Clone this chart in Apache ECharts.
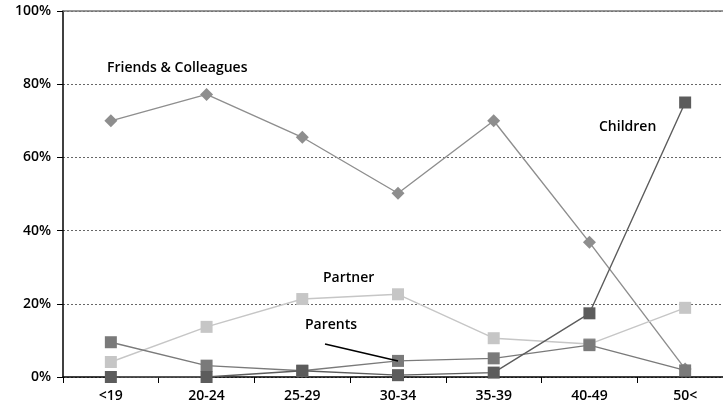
<!DOCTYPE html>
<html>
<head>
<meta charset="utf-8">
<script src="https://cdn.jsdelivr.net/npm/echarts@6/dist/echarts.min.js"></script>
<style>
  html, body { margin: 0; padding: 0; background: #fff; }
  #chart { width: 723px; height: 415px; }
</style>
</head>
<body>
<div id="chart"></div>
<script>
// age groups and shares (%)
const ageGroups = ['<19', '20-24', '25-29', '30-34', '35-39', '40-49', '50<'];
const friends = [70, 77.2, 65.5, 50.2, 70, 36.8, 2.2];
const partner = [4.1, 13.7, 21.3, 22.6, 10.6, 9.0, 18.9];
const parents = [9.5, 3.1, 1.7, 4.4, 5.1, 8.7, 1.8];
const children = [0, 0, 1.7, 0.5, 1.2, 17.4, 75];
const yTicks = [0, 20, 40, 60, 80, 100];

const FONT = '"Open Sans", "DejaVu Sans", sans-serif';
const WEIGHT = 600;

const chart = echarts.init(document.getElementById('chart'));

function lineSeries(name, data, color, symbol, size, z) {
  return {
    name: name,
    type: 'line',
    data: data,
    symbol: symbol,
    symbolSize: size,
    z: z,
    itemStyle: { color: color },
    lineStyle: { color: color, width: 1.4 },
    emphasis: { disabled: true },
  };
}

const option = {
  animation: false,
  backgroundColor: '#fff',
  // plot runs past the right edge, as in the source picture
  grid: { left: 63, width: 670, top: 11, bottom: 38, outerBoundsMode: 'none' },
  xAxis: [
    {
      type: 'category',
      data: ageGroups,
      axisLine: { lineStyle: { color: '#000', width: 1.5 } },
      axisTick: { show: true, length: 6, lineStyle: { color: '#000' } },
      axisLabel: { color: '#000', fontSize: 14, fontWeight: WEIGHT, fontFamily: FONT, margin: 12 },
    },
    {
      type: 'category',
      data: ageGroups,
      position: 'top',
      axisLine: { lineStyle: { color: '#777', width: 1.5 } },
      axisTick: { show: false },
      axisLabel: { show: false },
    },
  ],
  yAxis: {
    type: 'value',
    min: 0,
    max: 100,
    interval: 20,
    axisLine: { show: true, lineStyle: { color: '#000', width: 1.5 } },
    axisTick: { show: true, length: 6, lineStyle: { color: '#000' } },
    axisLabel: {
      color: '#000',
      fontSize: 14,
      fontWeight: WEIGHT,
      fontFamily: FONT,
      margin: 12,
      formatter: (v) => (yTicks.includes(v) ? v + '%' : ''),
    },
    splitLine: { show: true, lineStyle: { color: '#666', type: [2, 2], width: 1 } },
  },
  series: [
    lineSeries('Friends & Colleagues', friends, '#8e8e8e', 'diamond', 13, 2),
    lineSeries('Partner', partner, '#c6c6c6', 'rect', 12, 3),
    lineSeries('Parents', parents, '#7a7a7a', 'rect', 12, 4),
    lineSeries('Children', children, '#5c5c5c', 'rect', 12, 5),
  ],
  graphic: [
    { type: 'text', left: 107, top: 61, style: { text: 'Friends & Colleagues', font: WEIGHT + ' 14px ' + FONT, fill: '#000' } },
    { type: 'text', left: 599, top: 120, style: { text: 'Children', font: WEIGHT + ' 14px ' + FONT, fill: '#000' } },
    { type: 'text', left: 323, top: 271, style: { text: 'Partner', font: WEIGHT + ' 14px ' + FONT, fill: '#000' } },
    { type: 'text', left: 305, top: 318, style: { text: 'Parents', font: WEIGHT + ' 14px ' + FONT, fill: '#000' } },
    {
      type: 'line',
      z: 10,
      shape: { x1: 325, y1: 344, x2: 398, y2: 361 },
      style: { stroke: '#000', lineWidth: 1.5 },
    },
  ],
};

chart.setOption(option);
</script>
</body>
</html>
